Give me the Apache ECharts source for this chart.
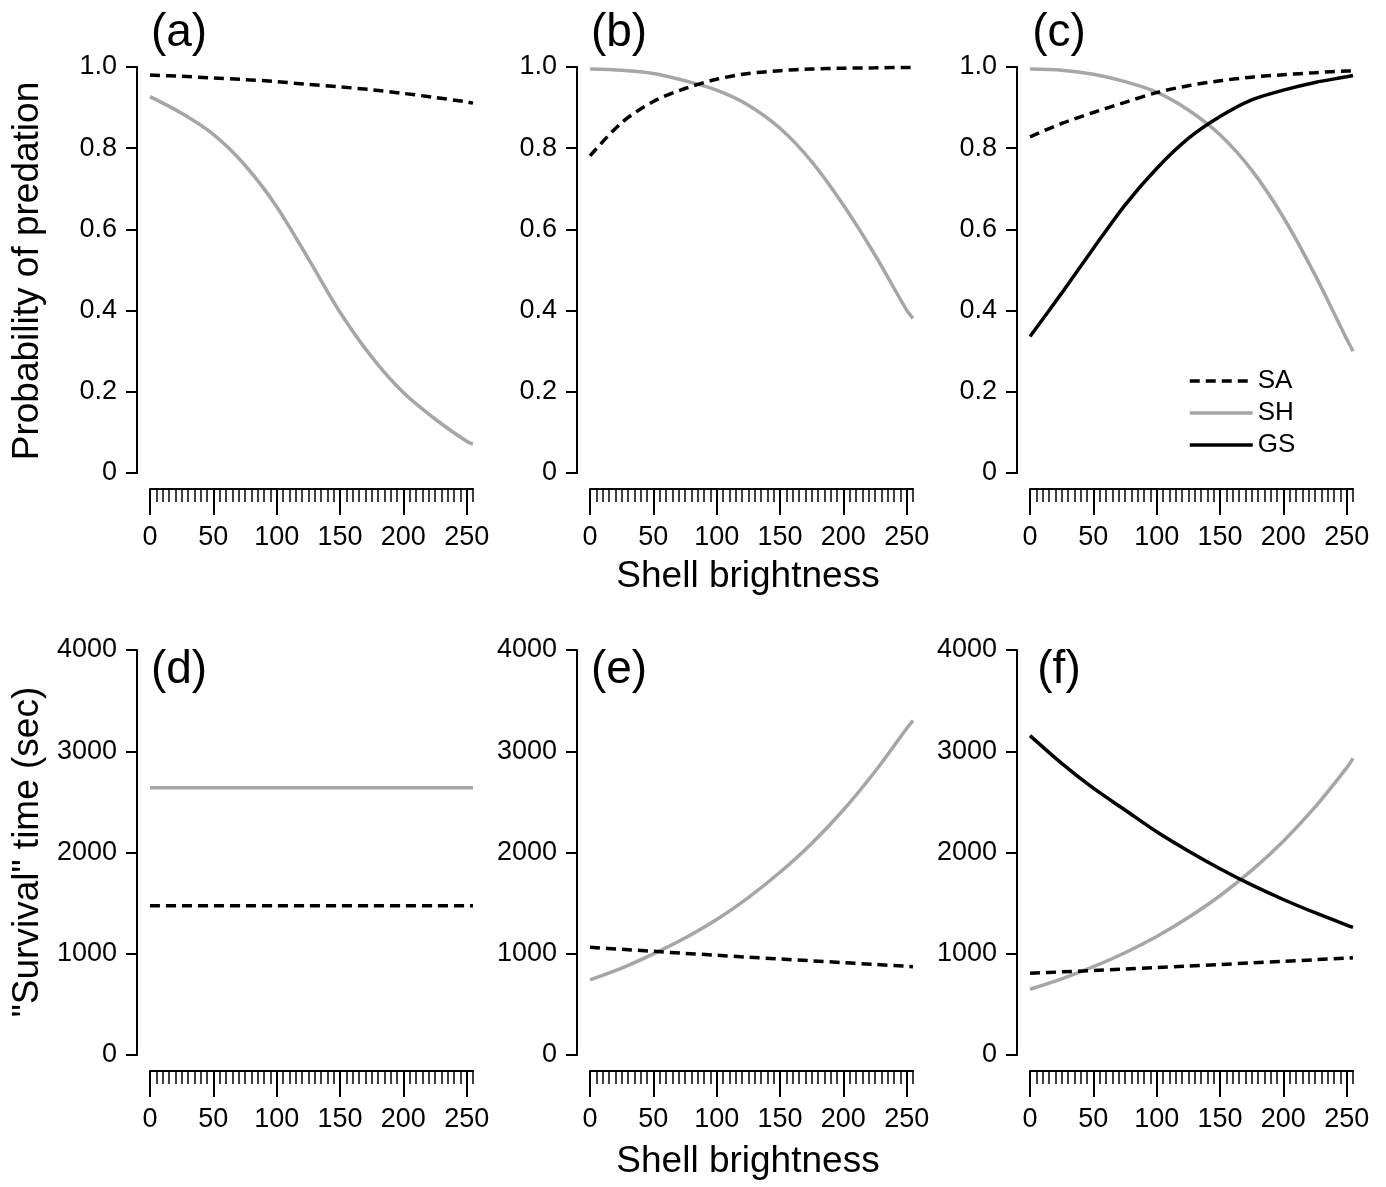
<!DOCTYPE html>
<html>
<head>
<meta charset="utf-8">
<script src="https://cdn.jsdelivr.net/npm/echarts@6.0.0/dist/echarts.min.js"></script>
<style>
html, body { margin: 0; padding: 0; background: #fff; }
#main { width: 1386px; height: 1187px; }
</style>
</head>
<body>
<div id="main"></div>
<script>
// shell brightness values where the curves were read
const brightness = [0, 25, 50, 75, 100, 125, 150, 175, 200, 225, 250, 255];
const majorTicks = [0, 50, 100, 150, 200, 250];
const probTicks = [0, 0.2, 0.4, 0.6, 0.8, 1.0];
const timeTicks = [0, 1000, 2000, 3000, 4000];

// (a)-(c) probability of predation
const aSA = [0.980, 0.977, 0.973, 0.969, 0.964, 0.957, 0.951, 0.944, 0.935, 0.925, 0.914, 0.911];
const aSH = [0.927, 0.886, 0.834, 0.758, 0.656, 0.528, 0.396, 0.286, 0.198, 0.133, 0.078, 0.071];
const bSA = [0.781, 0.863, 0.915, 0.947, 0.970, 0.984, 0.991, 0.995, 0.997, 0.998, 0.999, 0.999];
const bSH = [0.995, 0.992, 0.984, 0.966, 0.943, 0.906, 0.849, 0.767, 0.660, 0.537, 0.401, 0.381];
const cSA = [0.828, 0.861, 0.888, 0.913, 0.937, 0.954, 0.966, 0.975, 0.981, 0.986, 0.990, 0.990];
const cSH = [0.995, 0.992, 0.982, 0.964, 0.938, 0.894, 0.833, 0.746, 0.630, 0.488, 0.330, 0.300];
const cGS = [0.336, 0.443, 0.553, 0.660, 0.750, 0.824, 0.878, 0.919, 0.943, 0.962, 0.976, 0.979];

// (d)-(f) "survival" time in seconds
const dSA = [1475, 1475, 1475, 1475, 1475, 1475, 1475, 1475, 1475, 1475, 1475, 1475];
const dSH = [2640, 2640, 2640, 2640, 2640, 2640, 2640, 2640, 2640, 2640, 2640, 2640];
const eSA = [1064, 1044, 1024, 1004, 985, 966, 948, 930, 912, 894, 877, 872];
const eSH = [741, 857, 998, 1155, 1338, 1555, 1805, 2090, 2420, 2800, 3225, 3302];
const fSA = [807, 821, 835, 850, 864, 879, 894, 910, 925, 941, 957, 961];
const fSH = [649, 752, 872, 1010, 1171, 1358, 1573, 1823, 2112, 2448, 2836, 2930];
const fGS = [3154, 2880, 2635, 2420, 2205, 2015, 1840, 1680, 1536, 1405, 1283, 1261];

const panels = [
  { label: '(a)', SH: aSH, SA: aSA },
  { label: '(b)', SH: bSH, SA: bSA },
  { label: '(c)', SH: cSH, SA: cSA, GS: cGS },
  { label: '(d)', SH: dSH, SA: dSA },
  { label: '(e)', SH: eSH, SA: eSA },
  { label: '(f)', SH: fSH, SA: fSA, GS: fGS }
];

const minorTicks = [];
for (let v = 0; v <= 255; v += 5) minorTicks.push(v);

const font = '"Liberation Sans", Arial, sans-serif';
const colLeft = [150, 590, 1030];
const rowTop = [67, 650];
const rowHeight = [406, 405];
const plotWidth = 323;

const styles = {
  SA: { color: '#000', width: 3.5, type: [10, 6] },
  SH: { color: '#a6a6a6', width: 3.5, type: 'solid' },
  GS: { color: '#000', width: 3.5, type: 'solid' }
};

const grid = [], xAxis = [], yAxis = [], series = [], graphic = [];

panels.forEach((p, i) => {
  const col = i % 3, row = Math.floor(i / 3);
  grid.push({
    left: colLeft[col], top: rowTop[row], width: plotWidth, height: rowHeight[row],
    outerBoundsMode: 'none'
  });
  // minor ticks + axis line
  xAxis.push({
    gridIndex: i, type: 'value', min: 0, max: 255, position: 'bottom', offset: 16,
    axisLine: { show: true, onZero: false, lineStyle: { color: '#000', width: 2 } },
    axisTick: { show: true, customValues: minorTicks, length: 13, lineStyle: { color: '#000', width: 1.5 } },
    axisLabel: { show: false },
    splitLine: { show: false }
  });
  // major ticks + labels
  xAxis.push({
    gridIndex: i, type: 'value', min: 0, max: 255, position: 'bottom', offset: 16,
    axisLine: { show: false, onZero: false },
    axisTick: { show: true, customValues: majorTicks, length: 26, lineStyle: { color: '#000', width: 2 } },
    axisLabel: { show: true, customValues: majorTicks, margin: 35, fontSize: 27, color: '#000', fontFamily: font },
    splitLine: { show: false }
  });
  yAxis.push({
    gridIndex: i, type: 'value', position: 'left', offset: 13,
    min: 0, max: row ? 4000 : 1, interval: row ? 1000 : 0.2,
    axisLine: { show: true, onZero: false, lineStyle: { color: '#000', width: 2 } },
    axisTick: { show: true, length: 11, lineStyle: { color: '#000', width: 2 } },
    axisLabel: {
      margin: 20, fontSize: 27, color: '#000', fontFamily: font,
      formatter: v => (row ? String(v) : (v === 0 ? '0' : v.toFixed(1)))
    },
    splitLine: { show: false }
  });
  ['SH', 'SA', 'GS'].forEach(name => {
    if (!p[name]) return;
    series.push({
      name: name, type: 'line', xAxisIndex: 2 * i + 1, yAxisIndex: i,
      data: brightness.map((b, k) => [b, p[name][k]]),
      symbol: 'none', smooth: 0.3,
      lineStyle: Object.assign({ cap: 'butt' }, styles[name]),
      itemStyle: { color: styles[name].color },
      z: name === 'SH' ? 2 : 3
    });
  });
  graphic.push({
    type: 'text', x: colLeft[col] + 29, y: row ? 670 : 33,
    style: { text: p.label, font: '46px ' + font, fill: '#000', align: 'center', verticalAlign: 'middle' }
  });
});

graphic.push(
  { type: 'text', x: 28, y: 271, rotation: Math.PI / 2,
    style: { text: 'Probability of predation', font: '37px ' + font, fill: '#000', align: 'center', verticalAlign: 'middle' } },
  { type: 'text', x: 28, y: 852, rotation: Math.PI / 2,
    style: { text: '"Survival" time (sec)', font: '37px ' + font, fill: '#000', align: 'center', verticalAlign: 'middle' } },
  { type: 'text', x: 748, y: 577,
    style: { text: 'Shell brightness', font: '37px ' + font, fill: '#000', align: 'center', verticalAlign: 'middle' } },
  { type: 'text', x: 748, y: 1162,
    style: { text: 'Shell brightness', font: '37px ' + font, fill: '#000', align: 'center', verticalAlign: 'middle' } }
);

const option = {
  animation: false,
  backgroundColor: '#fff',
  grid: grid,
  xAxis: xAxis,
  yAxis: yAxis,
  legend: {
    data: ['SA', 'SH', 'GS'],
    orient: 'vertical',
    left: 1183, top: 363,
    itemWidth: 63, itemHeight: 26, itemGap: 6,
    selectedMode: false,
    itemStyle: { opacity: 0 },
    lineStyle: { width: 3.5 },
    textStyle: { fontSize: 26, color: '#000', fontFamily: font, lineHeight: 26, padding: [0, 0, 0, 0] }
  },
  graphic: graphic,
  series: series
};

const myChart = echarts.init(document.getElementById('main'));
myChart.setOption(option);
</script>
</body>
</html>
